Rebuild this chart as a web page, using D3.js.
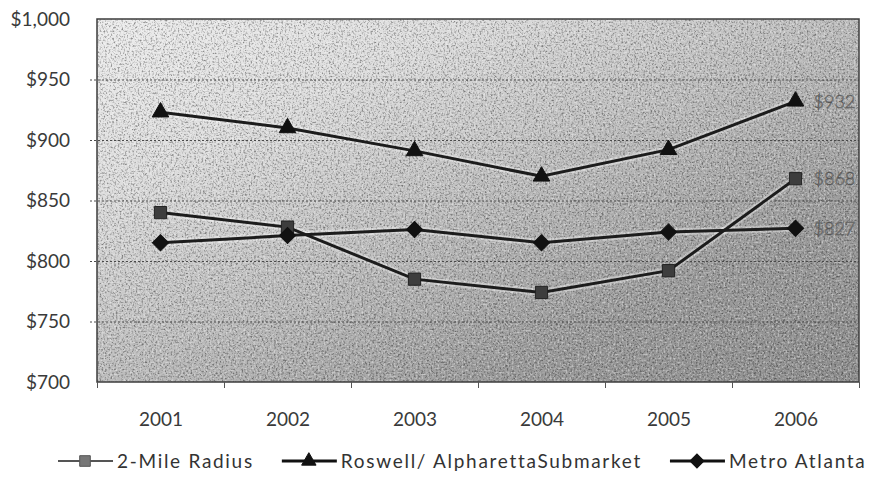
<!DOCTYPE html>
<html>
<head>
<meta charset="utf-8">
<script src="https://cdn.jsdelivr.net/npm/d3@7"></script>
<style>
  body { margin: 0; background: #fff; }
  svg { display: block; font-family: "Century Gothic", Lato, sans-serif; }
  .grid line { stroke: #4a4a4a; stroke-dasharray: 2,2; stroke-width: 1; }
  .grid path { display: none; }
  .axis text { fill: #3a3a3a; font-family: "Century Gothic", Lato, sans-serif; font-size: 19px; font-weight: 400; }
  .axis path { display: none; }
  .legend text { fill: #333; font-size: 19px; font-weight: 400; letter-spacing: 1.7px; }
</style>
</head>
<body>
<svg id="chart_svg" width="876" height="502"></svg>
<script>
var years = ["2001", "2002", "2003", "2004", "2005", "2006"];
var radius2mile = [840, 828, 785, 774, 792, 868];
var roswell = [923, 910, 891, 870, 892, 932];
var metro = [815, 821, 826, 815, 824, 827];
var yTicks = [700, 750, 800, 850, 900, 950, 1000];
var seriesNames = ["2-Mile Radius", "Roswell/ AlpharettaSubmarket", "Metro Atlanta"];

var MARGIN = { TOP: 19, RIGHT: 17, BOTTOM: 120, LEFT: 97 };

var svg = d3.select("#chart_svg");
var width = +svg.attr("width");
var height = +svg.attr("height");
var plotW = width - MARGIN.LEFT - MARGIN.RIGHT;
var plotH = height - MARGIN.TOP - MARGIN.BOTTOM;

var x = d3.scalePoint().domain(years).range([MARGIN.LEFT, width - MARGIN.RIGHT]).padding(0.5);
var xEdge = d3.scaleLinear().domain([0, years.length]).range([MARGIN.LEFT, width - MARGIN.RIGHT]);
var y = d3.scaleLinear().domain([700, 1000]).range([height - MARGIN.BOTTOM, MARGIN.TOP]);

// scanned grey background: diagonal gradient plus grain
var defs = svg.append("defs");
var bg = defs.append("linearGradient").attr("id", "bg").attr("x1", 0).attr("x2", 1).attr("y1", 0).attr("y2", 1);
bg.append("stop").attr("offset", "0%").attr("stop-color", "#ececec");
bg.append("stop").attr("offset", "25%").attr("stop-color", "#dcdcdc");
bg.append("stop").attr("offset", "50%").attr("stop-color", "#bcbcbc");
bg.append("stop").attr("offset", "75%").attr("stop-color", "#9a9a9a");
bg.append("stop").attr("offset", "100%").attr("stop-color", "#8c8c8c");

var fDark = defs.append("filter").attr("id", "grainDark").attr("x", 0).attr("y", 0).attr("width", 1).attr("height", 1);
fDark.append("feTurbulence").attr("type", "fractalNoise").attr("baseFrequency", 0.55).attr("numOctaves", 2).attr("seed", 3);
fDark.append("feColorMatrix").attr("type", "matrix")
  .attr("values", "0 0 0 0 0  0 0 0 0 0  0 0 0 0 0  3 0 0 0 -1.45");
var fLight = defs.append("filter").attr("id", "grainLight").attr("x", 0).attr("y", 0).attr("width", 1).attr("height", 1);
fLight.append("feTurbulence").attr("type", "fractalNoise").attr("baseFrequency", 0.5).attr("numOctaves", 2).attr("seed", 11);
fLight.append("feColorMatrix").attr("type", "matrix")
  .attr("values", "0 0 0 0 1  0 0 0 0 1  0 0 0 0 1  0 3 0 0 -1.4");

var plot = svg.append("g");
plot.append("rect").attr("x", MARGIN.LEFT).attr("y", MARGIN.TOP).attr("width", plotW).attr("height", plotH).attr("fill", "url(#bg)");
plot.append("rect").attr("x", MARGIN.LEFT).attr("y", MARGIN.TOP).attr("width", plotW).attr("height", plotH)
  .attr("filter", "url(#grainDark)").attr("opacity", 0.4);
plot.append("rect").attr("x", MARGIN.LEFT).attr("y", MARGIN.TOP).attr("width", plotW).attr("height", plotH)
  .attr("filter", "url(#grainLight)").attr("opacity", 0.45);

// gridlines
svg.append("g").attr("class", "grid")
  .attr("transform", "translate(" + MARGIN.LEFT + ",0)")
  .call(d3.axisLeft(y).tickValues(yTicks.slice(1, -1)).tickSize(-plotW).tickFormat(""))
  .selectAll("line").attr("x1", -7);

// plot border
svg.append("rect").attr("x", MARGIN.LEFT).attr("y", MARGIN.TOP).attr("width", plotW).attr("height", plotH)
  .attr("fill", "none").attr("stroke", "#3c3c3c").attr("stroke-width", 1.5);

// y axis labels
svg.append("g").attr("class", "axis")
  .attr("transform", "translate(" + MARGIN.LEFT + ",0)")
  .call(d3.axisLeft(y).tickValues(yTicks).tickSize(0).tickPadding(27).tickFormat(function (d) { return "$" + d3.format(",")(d); }));

// x axis labels
svg.append("g").attr("class", "axis")
  .attr("transform", "translate(0," + (height - MARGIN.BOTTOM) + ")")
  .call(d3.axisBottom(x).tickSize(0).tickPadding(31));

// category boundary ticks
svg.append("g")
  .attr("transform", "translate(0," + (height - MARGIN.BOTTOM) + ")")
  .call(d3.axisBottom(xEdge).tickValues(d3.range(years.length + 1)).tickSize(6).tickFormat(""))
  .call(function (g) { g.select(".domain").remove(); g.selectAll("line").attr("stroke", "#555"); });

var line = d3.line().x(function (d, i) { return x(years[i]); }).y(function (d) { return y(d); });

var series = [
  { name: seriesNames[0], values: radius2mile, symbol: d3.symbolSquare, size: 150, rot: 0, fill: "#3d3d3d", stroke: "#222" },
  { name: seriesNames[1], values: roswell, symbol: d3.symbolTriangle, size: 120, rot: 0, fill: "#111", stroke: "#111" },
  { name: seriesNames[2], values: metro, symbol: d3.symbolSquare, size: 130, rot: 45, fill: "#111", stroke: "#111" }
];

// light scan halo under the lines
series.forEach(function (s) {
  svg.append("path").datum(s.values).attr("d", line)
    .attr("fill", "none").attr("stroke", "#fff").attr("stroke-opacity", 0.35).attr("stroke-width", 7);
});

series.forEach(function (s) {
  svg.append("path").datum(s.values).attr("d", line)
    .attr("fill", "none").attr("stroke", "#1c1c1c").attr("stroke-width", 3);
  svg.selectAll(null).data(s.values).enter().append("path")
    .attr("d", d3.symbol().type(s.symbol).size(s.size))
    .attr("transform", function (d, i) { return "translate(" + x(years[i]) + "," + y(d) + ") rotate(" + s.rot + ")"; })
    .attr("fill", s.fill).attr("stroke", s.stroke).attr("stroke-width", 1);
});

// end value labels
var lastYear = years[years.length - 1];
svg.selectAll(null).data(series).enter().append("text")
  .attr("x", x(lastYear) + 18)
  .attr("y", function (s) { return y(s.values[s.values.length - 1]); })
  .attr("dy", "0.35em")
  .attr("font-size", 18).attr("font-weight", 300)
  .attr("fill", "#d4d4d4").attr("stroke", "#555").attr("stroke-width", 0.6)
  .text(function (s) { return "$" + s.values[s.values.length - 1]; });

// legend
var legend = svg.append("g").attr("class", "legend").attr("transform", "translate(58,461)");
var lx = 0;
series.forEach(function (s, i) {
  var g = legend.append("g").attr("transform", "translate(" + lx + ",0)");
  g.append("line").attr("x1", 0).attr("x2", 55).attr("y1", 0).attr("y2", 0)
    .attr("stroke", i === 0 ? "#555" : "#111").attr("stroke-width", i === 0 ? 2 : 3);
  g.append("path").attr("d", d3.symbol().type(s.symbol).size(s.size * 0.75))
    .attr("transform", "translate(27,0) rotate(" + s.rot + ")")
    .attr("fill", i === 0 ? "#777" : s.fill).attr("stroke", i === 0 ? "#555" : s.stroke);
  var t = g.append("text").attr("x", 59).attr("dy", "0.35em").text(s.name);
  lx += 59 + t.node().getComputedTextLength() + 28;
});
</script>
</body>
</html>
